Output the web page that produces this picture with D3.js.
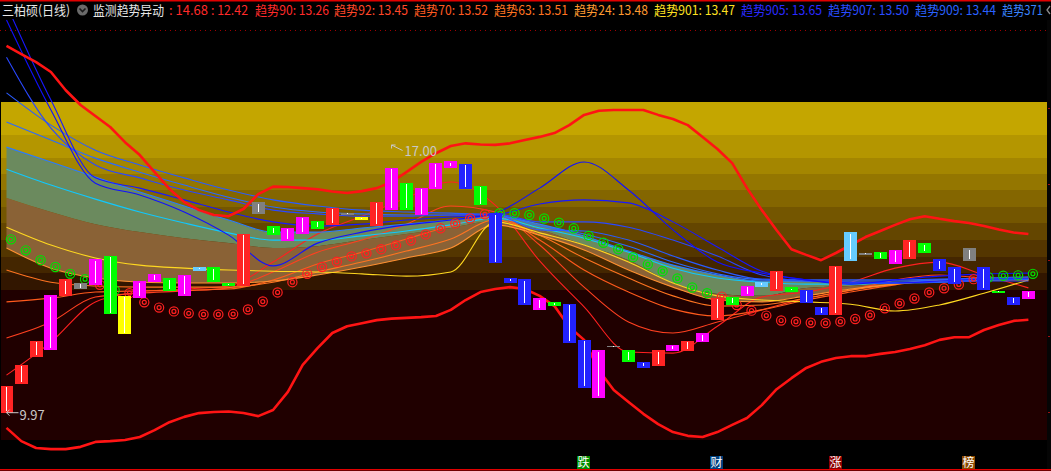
<!DOCTYPE html>
<html><head><meta charset="utf-8">
<script src="https://cdn.jsdelivr.net/npm/d3@7"></script>
<style>
html,body{margin:0;padding:0;background:#000;overflow:hidden;}
svg{display:block;}
text{font-family:"Noto Sans CJK SC","Liberation Sans",sans-serif;}
</style></head><body>
<svg id="c" width="1051" height="471"></svg>
<script>
// ---------------- DATA ----------------
const barIndex = d3.range(70);
const bodyHigh = [10.68,11.23,11.86,13.07,13.49,13.40,14.02,14.11,13.05,13.44,13.63,13.52,13.60,13.81,13.81,13.39,14.69,15.52,14.89,14.84,15.13,15.03,15.37,15.24,15.14,15.53,16.43,16.03,15.90,16.56,16.60,16.53,15.95,15.23,13.53,13.49,12.99,12.89,12.84,11.89,11.62,11.74,11.62,11.31,11.62,11.76,11.86,12.07,13.00,13.02,13.32,13.42,13.71,13.28,13.21,12.76,13.84,14.73,14.18,14.21,14.26,14.52,14.44,14.02,13.81,14.31,13.81,13.19,13.02,13.19];
const bodyLow  = [9.97,10.73,11.45,11.63,13.05,13.23,13.34,12.57,12.04,13.00,13.42,13.18,13.05,13.71,13.42,13.32,13.32,15.22,14.66,14.50,14.69,14.82,14.92,15.19,15.05,14.90,15.32,15.32,15.18,15.87,16.43,15.87,15.44,13.91,13.40,12.82,12.68,12.78,11.82,10.63,10.37,11.70,11.31,11.16,11.21,11.60,11.60,11.83,12.42,12.81,13.05,13.29,13.18,13.16,12.86,12.55,12.55,13.97,14.13,14.02,13.90,14.03,14.18,13.71,13.37,13.97,13.21,13.13,12.81,12.97];
const barColor = ["R","R","R","M","R","S","M","G","Y","M","M","G","M","L","G","G","R","S","G","M","M","G","R","S","Y","R","M","G","M","M","M","B","G","B","B","B","M","G","B","B","M","S","G","B","R","M","R","M","R","G","M","L","R","G","B","B","R","L","S","G","M","R","G","B","B","S","B","G","B","M"];

const upperBand = [19.64,19.42,19.21,18.95,18.47,18.08,17.79,17.50,17.10,16.76,16.31,15.87,15.52,15.31,15.18,15.15,15.34,15.73,15.93,15.92,15.89,15.86,15.80,15.76,15.81,15.89,16.05,16.31,16.58,16.81,17.00,17.07,17.04,17.03,17.07,17.16,17.24,17.34,17.55,17.82,17.93,17.95,17.95,17.95,17.82,17.71,17.55,17.24,16.92,16.55,15.89,15.31,14.78,14.28,14.13,13.99,14.18,14.39,14.60,14.76,14.92,15.07,15.15,15.08,15.02,14.97,14.89,14.80,14.72,14.68];
const lowerBand = [9.57,9.22,9.04,9.01,9.01,9.07,9.20,9.22,9.25,9.33,9.51,9.72,9.86,9.96,9.99,10.00,9.96,9.88,10.04,10.52,11.23,11.67,12.07,12.25,12.33,12.41,12.45,12.47,12.49,12.52,12.68,12.94,13.15,13.23,13.28,13.23,13.05,12.78,12.23,11.89,11.09,10.57,10.25,9.94,9.67,9.46,9.36,9.33,9.46,9.65,9.83,10.17,10.59,10.88,11.15,11.31,11.41,11.46,11.46,11.52,11.57,11.65,11.75,11.89,11.96,11.96,12.15,12.28,12.39,12.42];

const signalValue = [14.54,14.25,13.99,13.81,13.63,13.49,13.34,13.20,13.12,12.88,12.74,12.64,12.59,12.56,12.56,12.57,12.69,12.90,13.14,13.41,13.63,13.81,13.95,14.09,14.17,14.28,14.38,14.51,14.67,14.83,14.96,15.09,15.20,15.23,15.23,15.18,15.09,14.98,14.83,14.63,14.45,14.28,14.07,13.88,13.70,13.51,13.27,13.12,13.03,12.81,12.66,12.53,12.40,12.37,12.34,12.33,12.37,12.44,12.54,12.72,12.85,12.98,13.14,13.25,13.35,13.49,13.54,13.58,13.59,13.63];
const signalSide = ["G","G","G","G","G","G","R","G","R","R","R","R","R","R","R","R","R","R","R","R","R","R","R","R","R","R","R","R","R","R","R","R","R","G","G","G","G","G","G","G","G","G","G","G","G","G","G","G","R","R","R","R","R","R","R","R","R","R","R","R","R","R","R","R","R","R","G","G","G","G"];

// trend lines, read at these bars
const sampleBars = [0,3,6,9,12,15,18,21,24,27,30,33,36,39,42,45,48,51,54,57,60,63,66,69];
const t905 = [20.32,17.95,16.02,15.71,15.26,14.65,13.84,14.44,14.73,14.92,15.05,15.23,15.89,16.58,15.84,14.79,13.94,13.65,13.47,13.36,13.47,13.57,13.63,13.65];
const t907 = [20.72,18.21,16.16,15.89,15.58,15.26,15.00,14.89,14.94,15.05,15.13,15.18,15.47,15.58,15.50,15.00,14.34,13.70,13.47,13.39,13.39,13.44,13.49,13.50];
const t909 = [19.34,17.47,16.50,16.16,15.84,15.58,15.31,15.21,15.15,15.15,15.18,15.21,15.00,15.00,14.86,14.52,14.10,13.60,13.44,13.41,13.39,13.41,13.44,13.44];
const t371 = [18.40,17.55,16.89,16.50,16.16,15.84,15.58,15.42,15.31,15.26,15.23,15.18,14.79,14.76,14.52,14.10,13.73,13.49,13.47,13.47,13.47,13.49,13.52,13.55];
const tBlue5 = [17.63,17.16,16.68,16.31,15.97,15.65,15.39,15.26,15.21,15.18,15.18,15.18,14.89,14.68,14.36,13.94,13.63,13.47,13.44,13.44,13.44,13.47,13.49,13.52];
const bandTopLine = [16.97,16.58,16.18,15.79,15.42,15.05,14.73,14.73,14.84,14.94,15.05,15.15,14.94,14.63,14.23,13.86,13.60,13.44,13.44,13.41,13.41,13.44,13.47,13.49];
const cyanLine = [16.39,15.97,15.60,15.26,14.97,14.71,14.52,14.52,14.63,14.76,14.92,15.10,14.84,14.57,14.20,13.78,13.52,13.41,13.36,13.36,13.39,13.41,13.47,13.49];
const bandMidLine = [15.63,15.26,14.94,14.73,14.57,14.44,14.31,14.36,14.52,14.68,14.84,15.02,14.79,14.39,13.99,13.39,13.10,13.05,13.26,13.31,13.39,13.41,13.44,13.47];
const t901 = [14.86,14.39,14.05,13.86,13.78,13.73,13.70,13.68,13.63,13.57,13.68,15.00,14.71,14.39,13.94,13.39,13.05,12.94,12.89,12.83,12.65,12.81,13.12,13.47];
const t24 = [14.31,13.78,13.52,13.41,13.39,13.39,13.44,13.60,13.81,14.05,14.31,14.92,14.65,14.26,13.73,13.28,12.94,12.89,13.05,13.23,13.36,13.44,13.49,13.48];
const t63 = [13.73,13.41,13.31,13.28,13.28,13.28,13.41,13.68,13.94,14.23,14.55,15.05,14.65,14.05,13.52,13.05,12.78,12.81,12.99,13.20,13.36,13.47,13.49,13.51];
const t70 = [12.89,12.99,13.15,13.18,13.20,13.23,13.47,13.89,14.20,14.55,14.89,15.15,14.52,13.73,13.15,12.70,12.52,12.68,12.94,13.15,13.34,13.47,13.49,13.52];
const t92 = [11.94,12.36,13.02,13.12,13.18,13.26,13.68,14.20,14.52,14.94,15.42,15.26,14.39,13.28,12.36,12.07,12.36,12.68,12.99,13.20,13.47,13.60,13.52,13.45];
const t90 = [10.96,11.83,12.89,13.15,13.23,13.31,13.94,14.68,15.15,15.63,16.05,15.44,13.97,12.76,11.57,11.54,12.25,13.02,13.15,13.41,13.78,13.94,13.60,13.26];

const headerNames = ["趋势90","趋势92","趋势70","趋势63","趋势24","趋势901","趋势905","趋势907","趋势909","趋势371"];
const headerValues = ["13.26","13.45","13.52","13.51","13.48","13.47","13.65","13.50","13.44",null];
const bandValues = ["14.68","12.42"];
const priceTicks = [10,12,14,16,18];
const markBars = [39,48,56,65];
const markChars = ["跌","财","涨","榜"];
const highMark = {bar:26, value:17.00};
const lowMark = {bar:0, value:9.97};

// ---------------- STYLE ----------------
const candleColors = {R:"#ff2424",M:"#ff00ff",G:"#00ff00",B:"#2222ff",Y:"#ffff00",S:"#808080",L:"#66ccff"};
const headerColors = ["#ff2a2a","#ff4628","#ff5a20","#ff7420","#ff9a30","#ffe020","#2a2aff","#2a4cff","#2a62ff","#3a84ff"];
const headerX = [255,334,414,494,574,654,741,828,915,1002];
const markColors = ["#008c00","#00407e","#8c0000","#8c4a00"];

const svg = d3.select("#c");
const x = d3.scaleLinear().domain([0,69]).range([6.5,1028.4]);
const y = d3.scaleLinear().domain([9.97,17.00]).range([412.7,146]);

svg.append("rect").attr("width",1051).attr("height",471).attr("fill","#000");

// background bands
const bandEdges = [102,135,158,174,190,207,223,240,257,273,290,440];
const bandFills = ["#c4a600","#b49600","#a48600","#947600","#846600","#745600","#644600","#543600","#442600","#321600","#200000"];
svg.append("g").selectAll("rect").data(bandFills).join("rect")
  .attr("x",1).attr("width",1046)
  .attr("y",(d,i)=>bandEdges[i]).attr("height",(d,i)=>bandEdges[i+1]-bandEdges[i])
  .attr("fill",d=>d).attr("shape-rendering","crispEdges");

// dotted line
svg.append("line").attr("x1",0).attr("x2",1047).attr("y1",30.5).attr("y2",30.5)
  .attr("stroke","#a00000").attr("stroke-dasharray","1,4");

const defs = svg.append("defs");
defs.append("clipPath").attr("id","plot").append("rect").attr("x",1).attr("y",19).attr("width",1046).attr("height",450);
const plot = svg.append("g").attr("clip-path","url(#plot)");

const sx = i => x(sampleBars[i]);
const area = (top,bot) => d3.area().x((d,i)=>sx(i)).y0((d,i)=>y(bot[i])).y1((d,i)=>y(top[i])).curve(d3.curveMonotoneX);
plot.append("path").datum(sampleBars).attr("d",area(bandTopLine,bandMidLine)).attr("fill","#6b8a5e");
plot.append("path").datum(sampleBars).attr("d",area(bandMidLine,t24)).attr("fill","#8a6236");

const lineGen = d3.line().x(d=>d[0]).y(d=>d[1]).curve(d3.curveMonotoneX);
const thin = [
  [t90,"#ff2020"],[t92,"#ff4020"],[t70,"#ff5a1c"],[t63,"#ff7420"],[t24,"#ff9030"],[t901,"#ffd820"],
  [cyanLine,"#10c8ff"],[bandTopLine,"#2a7cff"],[tBlue5,"#2a6aff"],[t371,"#2a5cff"],[t909,"#2a48ff"],[t907,"#1818ff"],[t905,"#1010ff"]
];
thin.forEach(([arr,col])=>{
  plot.append("path").datum(arr.map((v,i)=>[sx(i),y(v)])).attr("d",lineGen)
    .attr("fill","none").attr("stroke",col).attr("stroke-width",1.1);
});

const thick = d3.line().x((d,i)=>x(i)).y(d=>y(d));
[upperBand,lowerBand].forEach(arr=>{
  plot.append("path").datum(arr).attr("d",thick).attr("fill","none")
    .attr("stroke","#ff1414").attr("stroke-width",2.6).attr("stroke-linejoin","round");
});

// signal circles
const sig = plot.append("g");
barIndex.forEach(i=>{
  const c = signalSide[i]==="G" ? "#00e000" : "#ff2020";
  const cx = x(i)+4.5, cy = y(signalValue[i]);
  sig.append("circle").attr("cx",cx).attr("cy",cy).attr("r",4.6).attr("fill","none").attr("stroke",c).attr("stroke-width",1.2);
  sig.append("circle").attr("cx",cx).attr("cy",cy).attr("r",2).attr("fill","none").attr("stroke",c).attr("stroke-width",1.2);
});

// candles
const cg = plot.append("g").attr("shape-rendering","crispEdges");
cg.selectAll("rect.b").data(barIndex).join("rect").attr("class","b")
  .attr("x",i=>Math.round(x(i)-6.5)).attr("width",13)
  .attr("y",i=>y(bodyHigh[i])).attr("height",i=>Math.max(1.5,y(bodyLow[i])-y(bodyHigh[i])))
  .attr("fill",i=>candleColors[barColor[i]]);
cg.selectAll("rect.w").data(barIndex).join("rect").attr("class","w")
  .attr("x",i=>Math.round(x(i)-6.5)+6).attr("width",1)
  .attr("y",i=>{const h=y(bodyLow[i])-y(bodyHigh[i]); return h>4? y(bodyHigh[i])+1.5 : y(bodyHigh[i])+h/2-0.5;})
  .attr("height",i=>{const h=y(bodyLow[i])-y(bodyHigh[i]); return h>4? h-3 : 1;})
  .attr("fill","#ffffff");

// high / low labels
const hx = x(highMark.bar), hy = y(highMark.value);
svg.append("path").attr("d",`M${hx+11},${hy+4.5} L${hx},${hy-1} M${hx},${hy-1} l4,0 M${hx},${hy-1} l0,3.5`)
  .attr("stroke","#c8c8c8").attr("fill","none").attr("stroke-width",1);
svg.append("text").attr("x",hx+13).attr("y",hy+9.5).attr("fill","#c8c8c8").attr("font-size",13).text(highMark.value.toFixed(2));
const lx = x(lowMark.bar), ly = y(lowMark.value);
svg.append("path").attr("d",`M${lx},${ly} L${lx+12},${ly} M${lx},${ly} l3,-3 M${lx},${ly} l3,3`)
  .attr("stroke","#c8c8c8").attr("fill","none").attr("stroke-width",1);
svg.append("text").attr("x",lx+13).attr("y",ly+7.5).attr("fill","#c8c8c8").attr("font-size",13).text(lowMark.value.toFixed(2));

// bottom markers
markBars.forEach((b,i)=>{
  const mx = Math.round(x(b)-7.2);
  svg.append("rect").attr("x",mx).attr("y",456).attr("width",13).attr("height",13).attr("fill",markColors[i]);
  svg.append("text").attr("x",mx+6.5).attr("y",467).attr("text-anchor","middle").attr("font-size",12).attr("fill","#fff").text(markChars[i]);
});

// right axis tick dots
svg.append("rect").attr("x",1047).attr("y",20).attr("width",4).attr("height",449).attr("fill","#050505");
priceTicks.forEach(p=>{
  svg.append("rect").attr("x",1048).attr("y",Math.round(y(p))).attr("width",2).attr("height",1).attr("fill","#a01010");
});

// frame lines
svg.append("rect").attr("x",0).attr("y",0).attr("width",1051).attr("height",1.5).attr("fill","#e00000");
svg.append("rect").attr("x",0).attr("y",469).attr("width",1051).attr("height",1.5).attr("fill","#e00000");

// header
const hdr = svg.append("g").attr("font-size",13);
hdr.append("text").attr("x",2).attr("y",15).attr("fill","#e6e6e6").attr("textLength",68).attr("lengthAdjust","spacingAndGlyphs").text("三柏硕(日线)");
hdr.append("circle").attr("cx",82.5).attr("cy",10).attr("r",5.5).attr("fill","#6a6a6a");
hdr.append("path").attr("d","M79.5,8.5 L82.5,11.5 L85.5,8.5").attr("stroke","#1a1a1a").attr("stroke-width",1.6).attr("fill","none");
hdr.append("text").attr("x",93).attr("y",15).attr("fill","#e6e6e6").attr("textLength",71).attr("lengthAdjust","spacingAndGlyphs").text("监测趋势异动");
hdr.append("text").attr("x",169).attr("y",15).attr("fill","#ff2a2a").attr("textLength",39).attr("lengthAdjust","spacingAndGlyphs").text(": "+bandValues[0]);
hdr.append("text").attr("x",211).attr("y",15).attr("fill","#ff2a2a").attr("textLength",37).attr("lengthAdjust","spacingAndGlyphs").text(": "+bandValues[1]);
headerNames.forEach((n,i)=>{
  const v = headerValues[i];
  const w = v===null ? 41 : (n.length>4 ? 81 : 74);
  hdr.append("text").attr("x",headerX[i]).attr("y",15).attr("fill",headerColors[i])
    .attr("textLength",w).attr("lengthAdjust","spacingAndGlyphs").text(v===null ? n : n+": "+v);
});
svg.append("path").attr("d","M1050,6 L1047,10 L1050,14").attr("stroke","#8a8a8a").attr("stroke-width",1.3).attr("fill","none");
</script>
</body></html>
